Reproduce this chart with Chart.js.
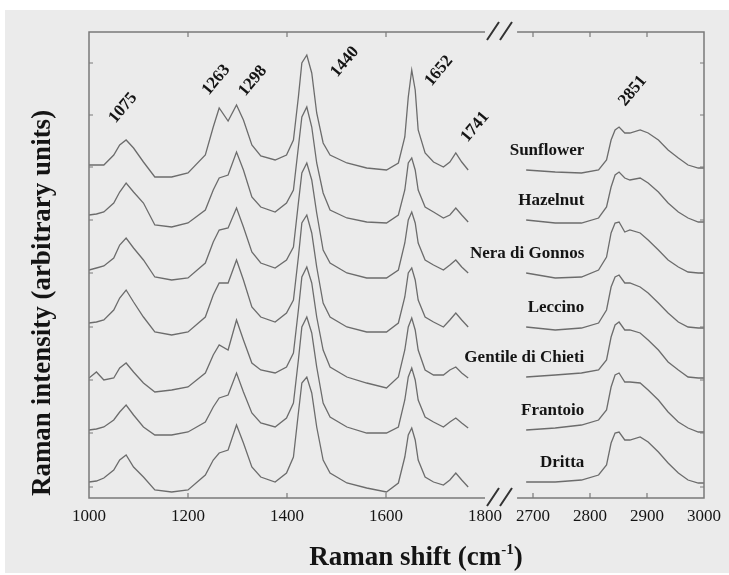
<!DOCTYPE html>
<html>
<head>
<meta charset="utf-8">
<script src="https://cdn.jsdelivr.net/npm/chart.js@4/dist/chart.umd.min.js"></script>
<style>
  html, body { margin: 0; padding: 0; background: #ffffff; }
  #wrap { width: 729px; height: 575px; }
</style>
</head>
<body>
<div id="wrap"><canvas id="ramanChart" width="729" height="575"></canvas></div>
<script>
// Raman shift (cm-1) sampling, fingerprint region and C-H stretching region
const WAVENUMBER_LEFT = [1000, 1015, 1030, 1050, 1062, 1075, 1090, 1110, 1133, 1167, 1200, 1235, 1251, 1263, 1281,
    1298, 1312, 1329, 1347, 1376, 1399, 1413, 1423, 1430, 1440, 1450, 1460, 1473, 1487, 1521, 1561, 1601, 1625,
    1638, 1645, 1652, 1659, 1665, 1679, 1696, 1716, 1729, 1741, 1753, 1766];
const WAVENUMBER_RIGHT = [2688, 2739, 2785, 2815, 2829, 2837, 2844, 2851, 2861, 2870, 2888, 2902, 2920, 2937,
    2955, 2972, 2990, 3000];

const OILS = ['Sunflower', 'Hazelnut', 'Nera di Gonnos', 'Leccino', 'Gentile di Chieti', 'Frantoio', 'Dritta'];

// intensities (arbitrary units, spectra already stacked)
const SUNFLOWER_LEFT = [335, 335, 335, 345, 355, 360, 352, 338, 323, 323, 327, 345, 373, 392, 379, 395, 380, 355,
    344, 340, 345, 360, 403, 437, 445, 427, 387, 357, 345, 337, 332, 330, 337, 363, 403, 430, 410, 370, 347, 338,
    333, 338, 347, 338, 330];
const SUNFLOWER_RIGHT = [330, 328, 327, 330, 340, 360, 370, 373, 367, 367, 370, 367, 360, 350, 342, 335, 332, 332];

const HAZELNUT_LEFT = [285, 286, 288, 297, 308, 317, 308, 297, 275, 273, 277, 290, 310, 322, 325, 348, 330, 303,
    293, 288, 297, 310, 353, 383, 393, 373, 337, 307, 290, 282, 278, 277, 285, 310, 337, 342, 330, 310, 293, 288,
    282, 285, 292, 285, 278];
const HAZELNUT_RIGHT = [280, 277, 277, 282, 293, 313, 325, 328, 322, 320, 322, 317, 308, 297, 288, 282, 278, 278];

const NERA_LEFT = [230, 232, 234, 242, 255, 262, 252, 240, 223, 220, 222, 237, 258, 270, 272, 292, 273, 248, 237,
    232, 240, 253, 297, 327, 337, 320, 287, 250, 237, 227, 222, 222, 230, 257, 280, 288, 277, 257, 240, 235, 230,
    235, 240, 233, 227];
const NERA_RIGHT = [227, 222, 223, 230, 243, 267, 277, 278, 268, 270, 267, 260, 250, 240, 233, 228, 227, 227];

const LECCINO_LEFT = [177, 178, 180, 190, 202, 210, 198, 183, 168, 165, 168, 183, 205, 217, 217, 240, 220, 193,
    183, 178, 187, 200, 243, 277, 285, 267, 233, 197, 183, 173, 168, 168, 177, 203, 227, 232, 220, 200, 183, 178,
    173, 180, 187, 180, 173];
const LECCINO_RIGHT = [173, 170, 172, 177, 190, 213, 223, 225, 217, 217, 213, 207, 197, 187, 178, 173, 172, 172];

const GENTILE_LEFT = [122, 128, 120, 122, 132, 137, 128, 117, 108, 110, 113, 127, 145, 155, 150, 180, 160, 137,
    130, 127, 133, 147, 190, 223, 233, 217, 183, 150, 133, 123, 117, 112, 123, 150, 173, 182, 170, 150, 130, 125,
    125, 130, 133, 127, 122];
const GENTILE_RIGHT = [123, 125, 127, 130, 140, 163, 175, 178, 170, 170, 167, 160, 150, 138, 130, 123, 122, 122];

const FRANTOIO_LEFT = [70, 71, 73, 80, 88, 95, 85, 73, 65, 65, 68, 78, 93, 102, 105, 127, 108, 87, 77, 73, 82, 97,
    140, 173, 183, 167, 133, 97, 83, 73, 67, 67, 73, 100, 123, 132, 120, 100, 83, 78, 73, 78, 82, 77, 72];
const FRANTOIO_RIGHT = [70, 72, 75, 80, 90, 113, 125, 127, 118, 118, 117, 110, 100, 88, 78, 72, 68, 68];

const DRITTA_LEFT = [18, 19, 22, 30, 40, 45, 33, 23, 10, 8, 10, 25, 40, 47, 50, 75, 57, 33, 23, 18, 27, 43, 87, 117,
    123, 107, 73, 40, 27, 17, 12, 8, 17, 43, 65, 72, 60, 40, 23, 18, 15, 20, 27, 20, 13];
const DRITTA_RIGHT = [18, 18, 20, 25, 35, 57, 67, 68, 60, 60, 63, 58, 48, 37, 27, 20, 17, 17];

const SERIES_LEFT = [SUNFLOWER_LEFT, HAZELNUT_LEFT, NERA_LEFT, LECCINO_LEFT, GENTILE_LEFT, FRANTOIO_LEFT, DRITTA_LEFT];
const SERIES_RIGHT = [SUNFLOWER_RIGHT, HAZELNUT_RIGHT, NERA_RIGHT, LECCINO_RIGHT, GENTILE_RIGHT, FRANTOIO_RIGHT, DRITTA_RIGHT];

const X_TICKS = [1000, 1200, 1400, 1600, 1800, 2700, 2800, 2900, 3000];
const X_MINOR = [1200, 1400, 1600, 2700, 2800, 2900];
const Y_TICKS = [13, 67, 120, 173, 227, 280, 333, 385, 437];

const PEAK_LABELS = ['1075', '1263', '1298', '1440', '1652', '1741', '2851'];
const PEAK_LABEL_AT = [[1069, 392], [1257, 420], [1331, 419], [1517, 438], [1707, 429], [1780, 373], [2875, 409]];

// broken axis: 1000-1800 then 2672-3000 drawn with its own scale
function toU(w) {
    if (w <= 1800) return w;
    return 1000 + (444 + (w - 2700) * 0.57) / 0.495;
}
function fromU(u) {
    if (u <= 1800.5) return Math.round(u);
    return Math.round(2700 + ((u - 1000) * 0.495 - 444) / 0.57);
}

const LINE_COLOR = '#6c6c6c';
const FRAME_COLOR = '#7a7a7a';
const TEXT_COLOR = '#141414';
const SERIF = '"Liberation Serif", "DejaVu Serif", serif';

const datasets = OILS.map((name, i) => {
    const pts = WAVENUMBER_LEFT.map((w, j) => ({ x: toU(w), y: SERIES_LEFT[i][j] }));
    pts.push({ x: toU(2000), y: null });
    WAVENUMBER_RIGHT.forEach((w, j) => pts.push({ x: toU(w), y: SERIES_RIGHT[i][j] }));
    return {
        label: name,
        data: pts,
        borderColor: LINE_COLOR,
        borderWidth: 1.3,
        pointRadius: 0,
        tension: 0,
        spanGaps: false,
        fill: false
    };
});

const decorPlugin = {
    id: 'decor',
    beforeDraw(chart) {
        const ctx = chart.ctx;
        ctx.save();
        ctx.fillStyle = '#ffffff';
        ctx.fillRect(0, 0, chart.width, chart.height);
        ctx.fillStyle = '#ebebeb';
        ctx.fillRect(5, 10, chart.width - 5, chart.height - 12);
        ctx.restore();
    },
    afterDatasetsDraw(chart) {
        const ctx = chart.ctx;
        const xs = chart.scales.x, ys = chart.scales.y;
        const top = chart.chartArea.top, bottom = chart.chartArea.bottom;
        const xL = xs.getPixelForValue(toU(1000)), xB1 = xs.getPixelForValue(toU(1800));
        const xB2 = xs.getPixelForValue(toU(2672)), xR = xs.getPixelForValue(toU(3000));

        ctx.save();
        ctx.strokeStyle = FRAME_COLOR;
        ctx.lineWidth = 1.5;
        ctx.beginPath();
        ctx.moveTo(xB1, top); ctx.lineTo(xL, top); ctx.lineTo(xL, bottom); ctx.lineTo(xB1, bottom);
        ctx.moveTo(xB2, top); ctx.lineTo(xR, top); ctx.lineTo(xR, bottom); ctx.lineTo(xB2, bottom);
        ctx.stroke();

        // inner ticks
        ctx.lineWidth = 1.2;
        ctx.beginPath();
        X_MINOR.forEach(w => {
            const x = xs.getPixelForValue(toU(w));
            ctx.moveTo(x, top); ctx.lineTo(x, top + 5);
            ctx.moveTo(x, bottom); ctx.lineTo(x, bottom - 5);
        });
        Y_TICKS.forEach(v => {
            const y = ys.getPixelForValue(v);
            ctx.moveTo(xL, y); ctx.lineTo(xL + 4, y);
            ctx.moveTo(xR, y); ctx.lineTo(xR - 4, y);
        });
        ctx.stroke();

        // axis break marks
        ctx.strokeStyle = '#333333';
        ctx.lineWidth = 2;
        ctx.beginPath();
        [top, bottom].forEach(y => {
            [xB1 + 2, xB1 + 15].forEach(x => {
                ctx.moveTo(x, y + 8); ctx.lineTo(x + 12, y - 10);
            });
        });
        ctx.stroke();

        // peak labels
        ctx.fillStyle = TEXT_COLOR;
        ctx.font = 'bold 17px ' + SERIF;
        ctx.textAlign = 'center';
        ctx.textBaseline = 'middle';
        PEAK_LABELS.forEach((t, i) => {
            const x = xs.getPixelForValue(toU(PEAK_LABEL_AT[i][0]));
            const y = ys.getPixelForValue(PEAK_LABEL_AT[i][1]);
            ctx.save();
            ctx.translate(x, y);
            ctx.rotate(-50 * Math.PI / 180);
            ctx.fillText(t, 0, 0);
            ctx.restore();
        });

        // oil names above the C-H band traces
        ctx.font = 'bold 17px ' + SERIF;
        ctx.textAlign = 'right';
        OILS.forEach((name, i) => {
            const x = xs.getPixelForValue(toU(2790));
            const y = ys.getPixelForValue(SERIES_RIGHT[i][0] + 19);
            ctx.fillText(name, x, y);
        });

        // axis titles
        ctx.font = 'bold 27px ' + SERIF;
        ctx.textAlign = 'center';
        ctx.save();
        ctx.translate(43, 303);
        ctx.rotate(-Math.PI / 2);
        ctx.fillText('Raman intensity (arbitrary units)', 0, 0);
        ctx.restore();

        const main = 'Raman shift (cm';
        const sup = '-1';
        ctx.textAlign = 'left';
        ctx.textBaseline = 'alphabetic';
        const wMain = ctx.measureText(main).width;
        ctx.font = 'bold 15px ' + SERIF;
        const wSup = ctx.measureText(sup).width;
        ctx.font = 'bold 27px ' + SERIF;
        const wEnd = ctx.measureText(')').width;
        const x0 = 416 - (wMain + wSup + wEnd) / 2;
        const base = 565;
        ctx.fillText(main, x0, base);
        ctx.font = 'bold 15px ' + SERIF;
        ctx.fillText(sup, x0 + wMain, base - 11);
        ctx.font = 'bold 27px ' + SERIF;
        ctx.fillText(')', x0 + wMain + wSup, base);
        ctx.restore();
    }
};

new Chart(document.getElementById('ramanChart').getContext('2d'), {
    type: 'line',
    data: { datasets: datasets },
    options: {
        responsive: false,
        animation: false,
        devicePixelRatio: 1,
        layout: { padding: { left: 89, right: 25, top: 32, bottom: 0 } },
        plugins: {
            legend: { display: false },
            tooltip: { enabled: false }
        },
        scales: {
            x: {
                type: 'linear',
                min: toU(1000),
                max: toU(3000),
                grid: { display: false, drawTicks: false },
                border: { display: false },
                afterBuildTicks: axis => { axis.ticks = X_TICKS.map(w => ({ value: toU(w) })); },
                afterFit: scale => { scale.height = 77; },
                ticks: {
                    autoSkip: false,
                    maxRotation: 0,
                    padding: 8,
                    color: TEXT_COLOR,
                    font: { family: SERIF, size: 17 },
                    callback: value => String(fromU(value))
                }
            },
            y: {
                display: false,
                min: 2,
                max: 468
            }
        }
    },
    plugins: [decorPlugin]
});
</script>
</body>
</html>
